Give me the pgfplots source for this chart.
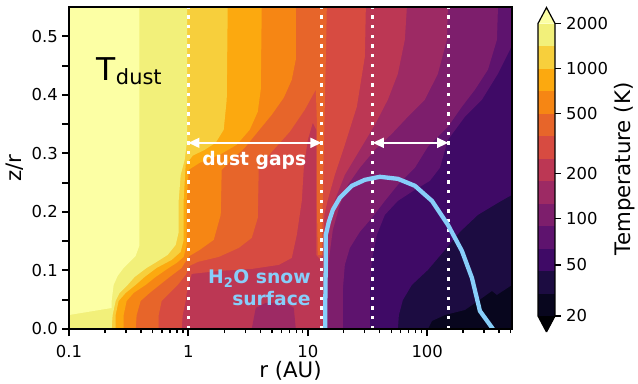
\documentclass[border=0pt]{standalone}
\usepackage{pgfplots}
\pgfplotsset{compat=1.18}
\usepackage{fontspec}
\setmainfont{DejaVu Sans}
\usetikzlibrary{arrows.meta}
\definecolor{under}{HTML}{000004}
\definecolor{b0}{HTML}{08061E}
\definecolor{b1}{HTML}{1C0C41}
\definecolor{b2}{HTML}{3F0A66}
\definecolor{b3}{HTML}{5E136E}
\definecolor{b4}{HTML}{7D1E6C}
\definecolor{b5}{HTML}{9D2A64}
\definecolor{b6}{HTML}{BC3754}
\definecolor{b7}{HTML}{D74B41}
\definecolor{b8}{HTML}{E7652A}
\definecolor{b9}{HTML}{F68614}
\definecolor{b10}{HTML}{FCA90F}
\definecolor{b11}{HTML}{F7CF3C}
\definecolor{b12}{HTML}{F2F07A}
\definecolor{over}{HTML}{FCFFA4}
\definecolor{snow}{HTML}{87CEFA}
\begin{document}
\begin{tikzpicture}
\begin{axis}[
  at={(69bp,-329bp)}, anchor=south west,
  scale only axis, width=443bp, height=322bp,
  xmode=log, xmin=0.1, xmax=513, ymin=0, ymax=0.55,
  axis on top,
  xtick pos=bottom, ytick pos=left,
  xtick={0.1,1,10,100}, xticklabels={0.1,1,10,100},
  minor xtick={0.2,0.3,0.4,0.5,0.6,0.7,0.8,0.9,2,3,4,5,6,7,8,9,20,30,40,50,60,70,80,90,200,300,400,500},
  ytick={0,0.1,0.2,0.3,0.4,0.5}, yticklabels={0.0,0.1,0.2,0.3,0.4,0.5},
  extra y ticks={0.05,0.15,0.25,0.35,0.45}, extra y tick labels={},
  extra y tick style={ytick pos=left},
  tick align=outside, major tick length=7bp, minor tick length=4bp,
  major tick style={line width=2bp, black},
  minor tick style={line width=1.4bp, black},
  axis line style={line width=2bp},
  tick label style={font=\fontsize{16.5}{18}\selectfont},
  xticklabel style={anchor=north, inner sep=0pt, yshift=-9bp},
  yticklabel style={anchor=east, inner sep=0pt, xshift=-4bp},
  xlabel={r (AU)},
  xlabel style={at={(axis description cs:0.5,-0.152)}, anchor=base, inner sep=0pt, font=\fontsize{21.4}{24}\selectfont},
  ylabel={z/r},
  ylabel style={at={(axis description cs:-0.108,0.5)}, anchor=base, rotate=0, inner sep=0pt, font=\fontsize{21.4}{24}\selectfont},
]
% layer 0
\addplot[fill=b0, draw=none] coordinates {(0.1,0) (513,0) (513,0.55) (0.1,0.55)};
% layer 1
\addplot[fill=b1, draw=none] coordinates {(0.1,0.55) (513,0.55) (513,0.0753) (383.9,0.0582) (348.5,0.065) (266.0,0.0479) (207.0,0.0325) (140.7,0.0239) (109.5,0.0137) (101.3,0) (0.1,0)};
% layer 2
\addplot[fill=b2, draw=none] coordinates {(0.1,0.55) (513,0.55) (513,0.2292) (391.4,0.2155) (266.0,0.195) (187.9,0.1659) (140.7,0.1351) (101.3,0.1009) (74.41,0.0753) (62.56,0.0496) (57.91,0.0239) (56.80,0) (0.1,0)};
% layer 3
\addplot[fill=b3, draw=none] coordinates {(0.1,0.55) (513,0.55) (513,0.4857) (493.3,0.4772) (391.4,0.4361) (287.3,0.3917) (207.0,0.3626) (149.1,0.3232) (127.8,0.2754) (105.3,0.2531) (78.84,0.2377) (56.80,0.2189) (44.19,0.195) (37.87,0.1608) (34.39,0.118) (33.08,0.0667) (33.08,0) (0.1,0)};
% layer 4
\addplot[fill=b4, draw=none] coordinates {(0.1,0.55) (391.4,0.55) (383.9,0.4943) (322.7,0.443) (251.1,0.4088) (195.3,0.3797) (149.1,0.3455) (101.3,0.3113) (78.84,0.2754) (56.80,0.2463) (44.19,0.2189) (34.39,0.1898) (27.28,0.1659) (22.49,0.1385) (20.42,0.1095) (19.65,0.0667) (19.65,0) (0.1,0)};
% layer 5
\addplot[fill=b5, draw=none] coordinates {(0.1,0.55) (149.1,0.55) (146.3,0.4943) (122.9,0.4361) (95.65,0.3917) (68.89,0.3626) (50.58,0.3335) (36.43,0.3061) (27.28,0.2754) (21.64,0.2463) (18.54,0.2121) (16.20,0.1693) (15.00,0.118) (14.57,0.0667) (14.43,0) (0.1,0)};
% layer 6
\addplot[fill=b6, draw=none] coordinates {(0.1,0.55) (67.57,0.55) (65.01,0.4943) (56.80,0.4361) (46.82,0.3917) (36.43,0.3489) (27.28,0.3061) (20.42,0.2634) (16.84,0.2206) (15.00,0.1779) (14.15,0.1351) (14.02,0.0838) (13.88,0) (0.1,0)};
% island band 5
\addplot[fill=b5, draw=none] coordinates {(3.393,0) (3.665,0.0359) (4.445,0.0445) (6.540,0.0445) (7.633,0.0359) (7.934,0)};
% layer 7
\addplot[fill=b7, draw=none] coordinates {(0.1,0.55) (30.63,0.55) (30.04,0.4652) (25.74,0.3797) (20.42,0.3147) (16.84,0.2634) (14.71,0.2206) (13.75,0.195) (13.49,0.1266) (12.61,0.1197) (11.78,0.1266) (11.78,0.3404) (11.01,0.3523) (10.0,0.3232) (9.256,0.2754) (8.906,0.2189) (8.088,0.1608) (7.345,0.1214) (5.714,0.1095) (3.393,0.1026) (1.795,0.0992) (1.066,0.0941) (1.006,0.0753) (0.968,0.0616) (0.949,0.0479) (0.896,0.0239) (0.879,0) (0.1,0)};
% layer 8
\addplot[fill=b8, draw=none] coordinates {(0.1,0.55) (14.43,0.55) (14.15,0.4601) (13.62,0.3061) (13.36,0.2206) (13.10,0.1266) (12.13,0.1266) (11.90,0.2206) (11.90,0.3575) (11.67,0.4088) (9.437,0.3746) (7.067,0.3369) (4.991,0.3027) (3.884,0.2754) (3.810,0.1898) (3.393,0.1556) (2.640,0.1385) (1.795,0.1231) (1.197,0.1146) (1.025,0.1078) (0.949,0.0924) (0.814,0.0753) (0.697,0.0616) (0.597,0.0479) (0.564,0.0239) (0.564,0) (0.1,0)};
% layer 9
\addplot[fill=b9, draw=none] coordinates {(0.1,0.55) (7.934,0.55) (7.934,0.4601) (7.345,0.4259) (6.292,0.3951) (4.991,0.366) (3.810,0.3369) (2.965,0.3096) (2.307,0.289) (1.901,0.2719) (1.865,0.195) (1.630,0.1522) (1.244,0.1351) (1.025,0.1249) (0.931,0.1129) (0.879,0.1043) (0.697,0.0889) (0.575,0.0753) (0.474,0.0616) (0.398,0.0479) (0.3687,0.0239) (0.3616,0) (0.1,0)};
% layer 10
\addplot[fill=b10, draw=none] coordinates {(0.1,0.55) (4.115,0.55) (4.036,0.4088) (3.810,0.3711) (3.265,0.3404) (2.540,0.3147) (1.830,0.2976) (1.244,0.2839) (1.006,0.2719) (0.968,0.2206) (0.968,0.1437) (0.913,0.1231) (0.798,0.1129) (0.684,0.1043) (0.532,0.0889) (0.4386,0.0753) (0.348,0.0616) (0.304,0.0479) (0.2869,0.0239) (0.2869,0) (0.1,0)};
% layer 11
\addplot[fill=b11, draw=none] coordinates {(0.1,0.55) (2.135,0.55) (2.094,0.3917) (1.976,0.3404) (1.693,0.3181) (1.369,0.3061) (1.086,0.2959) (0.949,0.2805) (0.913,0.2206) (0.913,0.1522) (0.862,0.1317) (0.724,0.118) (0.542,0.1043) (0.430,0.0889) (0.3616,0.0753) (0.2982,0.0616) (0.2605,0.0479) (0.2458,0.0239) (0.2458,0) (0.1,0)};
% layer 12
\addplot[fill=b12, draw=none] coordinates {(0.1,0.55) (0.977,0.55) (0.977,0.3232) (0.931,0.289) (0.862,0.2634) (0.830,0.2206) (0.830,0.1659) (0.783,0.1437) (0.671,0.1266) (0.542,0.1146) (0.447,0.1043) (0.3547,0.0889) (0.310,0.0753) (0.2656,0.0616) (0.2458,0.0479) (0.232,0.0239) (0.2276,0) (0.1,0)};
% layer 13 (over)
\addplot[fill=over, draw=none] coordinates {(0.1,0.55) (0.388,0.55) (0.388,0.142) (0.3616,0.1249) (0.310,0.1112) (0.2869,0.1043) (0.2555,0.0906) (0.2365,0.0753) (0.2276,0.0479) (0.2276,0.0359) (0.1,0.0239)};
% gap edges
\addplot[white, line width=3.3bp, dash pattern=on 3.3bp off 6.4bp] coordinates {(1,0) (1,0.55)};
\addplot[white, line width=3.3bp, dash pattern=on 3.3bp off 6.4bp] coordinates {(13,0) (13,0.55)};
\addplot[white, line width=3.3bp, dash pattern=on 3.3bp off 6.4bp] coordinates {(35,0) (35,0.55)};
\addplot[white, line width=3.3bp, dash pattern=on 3.3bp off 6.4bp] coordinates {(150,0) (150,0.55)};
% arrows
\addplot[white, line width=1.5bp, arrows={Triangle[length=11bp,width=10bp]-Triangle[length=11bp,width=10bp]}] coordinates {(1,0.318) (13,0.318)};
\addplot[white, line width=1.5bp, arrows={Triangle[length=11bp,width=10bp]-Triangle[length=11bp,width=10bp]}] coordinates {(35,0.318) (150,0.318)};
% snow surface
\addplot[snow, line width=4.3bp, line join=round] coordinates {(14.02,0) (14.02,0.0496) (14.15,0.118) (14.15,0.1608) (15.00,0.183) (16.20,0.2035) (18.54,0.224) (23.38,0.2446) (30.04,0.2548) (40.13,0.26) (56.80,0.2565) (78.84,0.2446) (109.5,0.2189) (149.1,0.1779) (195.3,0.1334) (236.9,0.0872) (276.4,0.0308) (355.3,0)};
% texts
\node[anchor=base west, inner sep=0pt] at (axis cs:0.1703,0.4242) {\fontsize{31.5}{32}\selectfont T\raisebox{-4bp}{\fontsize{21}{22}\selectfont dust}};
\node[anchor=base, inner sep=0pt, text=white, font=\bfseries\fontsize{18.8}{20}\selectfont] at (axis cs:3.56,0.2788) {dust gaps};
\node[anchor=base east, inner sep=0pt, text=snow, font=\bfseries\fontsize{18.8}{20}\selectfont] at (axis cs:10.59,0.077) {H\textsubscript{2}O snow};
\node[anchor=base east, inner sep=0pt, text=snow, font=\bfseries\fontsize{18.8}{20}\selectfont] at (axis cs:10.59,0.041) {surface};
\end{axis}
% colorbar
\begin{axis}[
  at={(538bp,-316bp)}, anchor=south west, scale only axis,
  width=17bp, height=292.5bp,
  xmin=0, xmax=1, ymin=0, ymax=13,
  clip=false,
  axis line style={draw=none},
  xtick=\empty,
  ytick={0,2.27,4.34,6.34,9,11,13},
  yticklabels={20,50,100,200,500,1000,2000},
  ytick pos=right, yticklabel pos=right,
  tick align=outside, major tick length=6bp,
  major tick style={line width=1.3bp, black},
  tick label style={font=\fontsize{16.5}{18}\selectfont},
  yticklabel style={anchor=west, inner sep=0pt, xshift=5bp},
  ylabel={Temperature (K)},
  ylabel style={at={(axis description cs:5.44,0.503)}, anchor=base, rotate=0, inner sep=0pt, font=\fontsize{21.4}{24}\selectfont},
]
\addplot[fill=b0, draw=none] coordinates {(0,0) (1,0) (1,1) (0,1)};
\addplot[fill=b1, draw=none] coordinates {(0,1) (1,1) (1,2) (0,2)};
\addplot[fill=b2, draw=none] coordinates {(0,2) (1,2) (1,3) (0,3)};
\addplot[fill=b3, draw=none] coordinates {(0,3) (1,3) (1,4) (0,4)};
\addplot[fill=b4, draw=none] coordinates {(0,4) (1,4) (1,5) (0,5)};
\addplot[fill=b5, draw=none] coordinates {(0,5) (1,5) (1,6) (0,6)};
\addplot[fill=b6, draw=none] coordinates {(0,6) (1,6) (1,7) (0,7)};
\addplot[fill=b7, draw=none] coordinates {(0,7) (1,7) (1,8) (0,8)};
\addplot[fill=b8, draw=none] coordinates {(0,8) (1,8) (1,9) (0,9)};
\addplot[fill=b9, draw=none] coordinates {(0,9) (1,9) (1,10) (0,10)};
\addplot[fill=b10, draw=none] coordinates {(0,10) (1,10) (1,11) (0,11)};
\addplot[fill=b11, draw=none] coordinates {(0,11) (1,11) (1,12) (0,12)};
\addplot[fill=b12, draw=none] coordinates {(0,12) (1,12) (1,13) (0,13)};
\addplot[fill=over, draw=none] coordinates {(0,13) (1,13) (0.5,13.71)};
\addplot[fill=under, draw=none] coordinates {(0,0) (1,0) (0.5,-0.71)};
\addplot[black, line width=1.2bp, line join=miter] coordinates {(0.5,-0.71) (1,0) (1,13) (0.5,13.71) (0,13) (0,0) (0.5,-0.71)};
\end{axis}
\pgfresetboundingbox
\useasboundingbox (0,0) rectangle (638bp,-384bp);
\end{tikzpicture}
\end{document}
